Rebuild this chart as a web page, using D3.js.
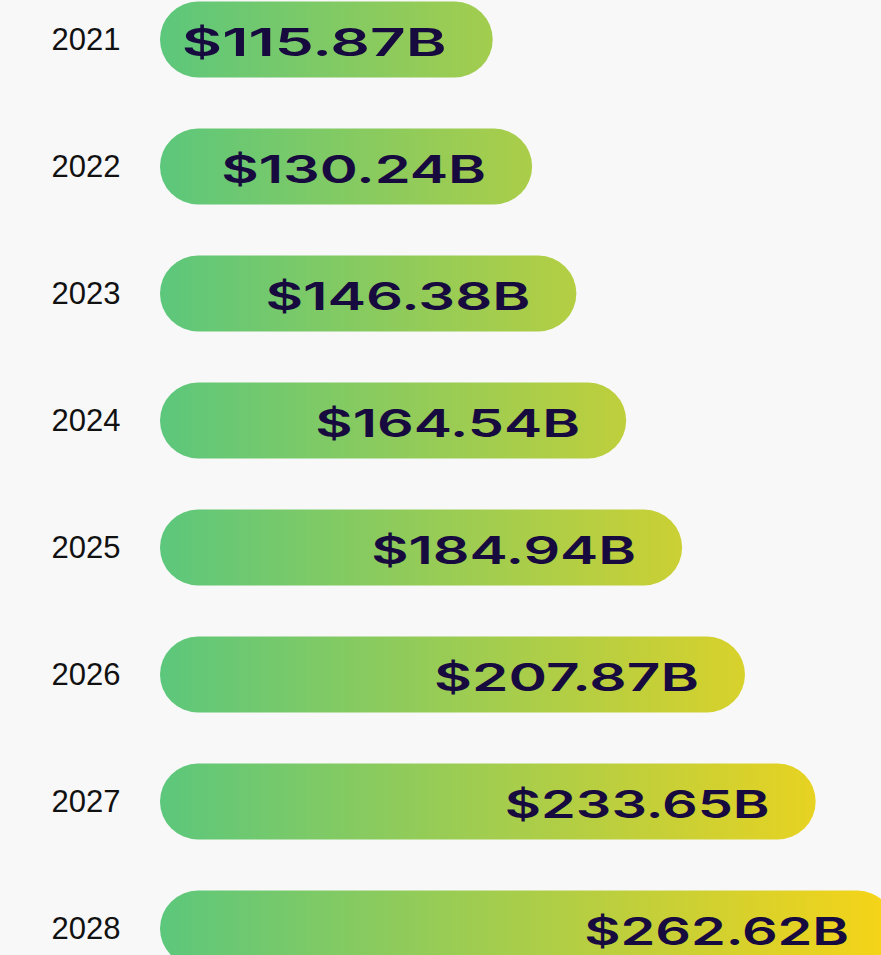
<!DOCTYPE html>
<html>
<head>
<meta charset="utf-8">
<script src="https://cdn.jsdelivr.net/npm/d3@7"></script>
<style>
  html, body { margin: 0; padding: 0; background: #f8f8f8; overflow: hidden; }
  svg { display: block; }
</style>
</head>
<body>
<div id="chart"></div>
<script>
// Market size by year, in billions of US dollars
const years = ["2021", "2022", "2023", "2024", "2025", "2026", "2027", "2028"];
const values = [115.87, 130.24, 146.38, 164.54, 184.94, 207.87, 233.65, 262.62];
const valueLabels = ["$115.87B", "$130.24B", "$146.38B", "$164.54B", "$184.94B", "$207.87B", "$233.65B", "$262.62B"];

const W = 881, H = 955;
const barLeft = 160;
const barH = 76;
const labelWidth = 265;   // stretched width of each value label

const svg = d3.select("#chart").append("svg")
  .attr("width", W).attr("height", H);

svg.append("rect").attr("width", W).attr("height", H).attr("fill", "#f8f8f8");

// Shared horizontal gradient so longer bars reach further into yellow
const defs = svg.append("defs");
const grad = defs.append("linearGradient")
  .attr("id", "barGrad")
  .attr("gradientUnits", "userSpaceOnUse")
  .attr("x1", barLeft).attr("x2", 900)
  .attr("y1", 0).attr("y2", 0);
grad.append("stop").attr("offset", "0%").attr("stop-color", "#5cc77c");
grad.append("stop").attr("offset", "100%").attr("stop-color", "#f9d416");

const x = d3.scaleLinear().domain([0, 300]).range([175, 175 + 2.742 * 300]);
const y = d3.scaleBand().domain(years).range([-24, 992]);

const rows = svg.selectAll("g.row")
  .data(years.map((yr, i) => ({ yr, v: values[i], label: valueLabels[i] })))
  .join("g")
  .attr("class", "row")
  .attr("transform", d => `translate(0,${y(d.yr) + y.bandwidth() / 2})`);

rows.append("rect")
  .attr("x", barLeft)
  .attr("y", -barH / 2)
  .attr("width", d => x(d.v) - barLeft)
  .attr("height", barH)
  .attr("rx", barH / 2)
  .attr("ry", barH / 2)
  .attr("fill", "url(#barGrad)");

rows.append("text")
  .attr("x", 86)
  .attr("y", 10)
  .attr("text-anchor", "middle")
  .attr("font-family", "'Liberation Sans', Arial, sans-serif")
  .attr("font-size", 31)
  .attr("fill", "#111111")
  .text(d => d.yr);

// Value labels: wide display face emulated by stretching a semibold sans
const labelG = rows.append("g");
const labels = labelG.append("text")
  .attr("text-anchor", "end")
  .attr("font-family", "Inter, 'Liberation Sans', sans-serif")
  .attr("font-weight", 600)
  .attr("font-size", 38)
  .attr("fill", "#170a3e")
  .text(d => d.label);

labels.each(function(d) {
  const w = this.getComputedTextLength();
  const s = labelWidth / w;
  d3.select(this.parentNode)
    .attr("transform", `translate(${x(d.v) - 46},16) scale(${s},1)`);
});
</script>
</body>
</html>
